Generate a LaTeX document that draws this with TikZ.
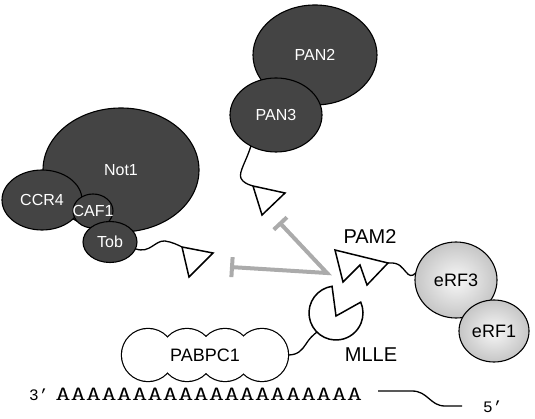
\documentclass[tikz,border=0pt]{standalone}
\usepackage{fontspec}
\setmainfont{Liberation Sans}
\setsansfont{Liberation Sans}
\newfontfamily\rnafont{Liberation Mono}
\usetikzlibrary{shapes.geometric,arrows.meta}
\definecolor{darkprot}{HTML}{444444}
\definecolor{inhibgray}{HTML}{ABABAB}
\begin{document}
\begin{tikzpicture}[x=1pt,y=-1pt,
	darkblob/.style={ellipse,draw=black,line width=1.1pt,fill=darkprot,inner sep=0pt,outer sep=0pt,text=white,font=\sffamily\fontsize{16}{19}\selectfont},
	erfblob/.style={ellipse,draw=black,line width=1.1pt,inner color=gray!6,outer color=gray!45,inner sep=0pt,outer sep=0pt,text=black,font=\sffamily\fontsize{18}{21}\selectfont},
	tether/.style={line width=1.3pt},
	motif/.style={line width=1.5pt,fill=white,line join=miter},
	inhib/.style={draw=inhibgray,line width=4pt,line join=miter},
	bigtag/.style={font=\sffamily\fontsize{20}{24}\selectfont}]
	\useasboundingbox (0,0) rectangle (535,419);
	% CCR4-Not complex
	\node[darkblob,minimum width=156,minimum height=124] (not1) at (121,170) {Not1};
	\node[darkblob,minimum width=80,minimum height=60] (ccr4) at (42,200) {CCR4};
	\node[darkblob,minimum width=40,minimum height=34] (caf1) at (93,211) {\makebox[0pt]{CAF1}};
	\node[darkblob,minimum width=54,minimum height=41] (tob) at (110,242) {Tob};
	% PAN2-PAN3 complex
	\node[darkblob,minimum width=124,minimum height=100] (pan2) at (315,55) {PAN2};
	\node[darkblob,minimum width=92,minimum height=74] (pan3) at (276,115) {PAN3};
	% release factors
	\node[erfblob,minimum width=82,minimum height=76] (erf3) at (456,280) {eRF3};
	\node[erfblob,minimum width=70,minimum height=62] (erf1) at (494,331) {eRF1};
	% PAM2 motifs on their tethers
	\draw[tether] (tob.-15) .. controls (150,254) and (155,240) .. (165,241) .. controls (172,242) and (178,245) .. (182,247);
	\draw[motif] (182,247) -- (213,253) -- (189,277) -- cycle;% PAM2 of Tob
	\draw[tether] (pan3.231) .. controls (245,165) and (236,175) .. (243,181) .. controls (246,184) and (250,185) .. (253,186);
	\draw[motif] (253,186) -- (285,193) -- (262,215) -- cycle;% PAM2 of PAN3
	\coordinate (pamtip) at (388,263);
	\draw[tether] (pamtip) .. controls (400,262) and (402,268) .. (406,272) .. controls (409,276) and (412,277) .. (erf3.170);
	\draw[motif] (335,250) -- (pamtip) -- (367,285) -- (360,265) -- (343,282) -- cycle;% PAM2 of eRF3
	\node[bigtag] (pam2) at (370,237) {PAM2};
	% competition for MLLE
	\coordinate (hub) at (327,273);
	\draw[inhib,{Bar[width=20pt]}-{Bar[width=18pt]}] (230,267) -- (hub) -- (279,222);
	% PABPC1 with its MLLE domain
	\coordinate (mlle) at (336,313);
	\draw[motif] (mlle) ++(261.6:27) arc[start angle=261.6,end angle=-23.7,radius=27] -- (336,316) -- cycle;
	\node[bigtag] (mlletag) at (371,355) {MLLE};
	\foreach \cx in {148,187,225,262}
		\draw[line width=2.4pt] (\cx,355) circle[radius=26];
	\foreach \cx in {148,187,225,262}
		\fill[white] (\cx,355) circle[radius=26];
	\node[font=\sffamily\fontsize{18}{22}\selectfont] (pabpc1) at (205,355) {PABPC1};
	\coordinate (pabend) at (288,355);
	\coordinate (mllefoot) at (317,332);
	\draw[tether] (pabend) .. controls (298,355) and (302,350) .. (306,344) .. controls (309,339) and (313,335) .. (mllefoot);
	% poly(A) tail
	\node[anchor=base west,inner sep=0pt,font=\rnafont\fontsize{16}{19}\selectfont] (three) at (29,400) {3’};
	\node[anchor=base west,inner sep=0pt,xscale=1.49,font=\ttfamily\fontsize{20}{24}\selectfont] (polya) at (55,400) {AAAAAAAAAAAAAAAAAAAA};
	\node[anchor=base west,inner sep=0pt,font=\rnafont\fontsize{16}{19}\selectfont] (five) at (483,412) {5’};
	\coordinate (rnastart) at (378,391);
	\coordinate (rnaend) at (462,406);
	\draw[tether] (rnastart) -- (412,391) .. controls (428,391) and (430,406) .. (445,406) -- (rnaend);
\end{tikzpicture}
\end{document}
